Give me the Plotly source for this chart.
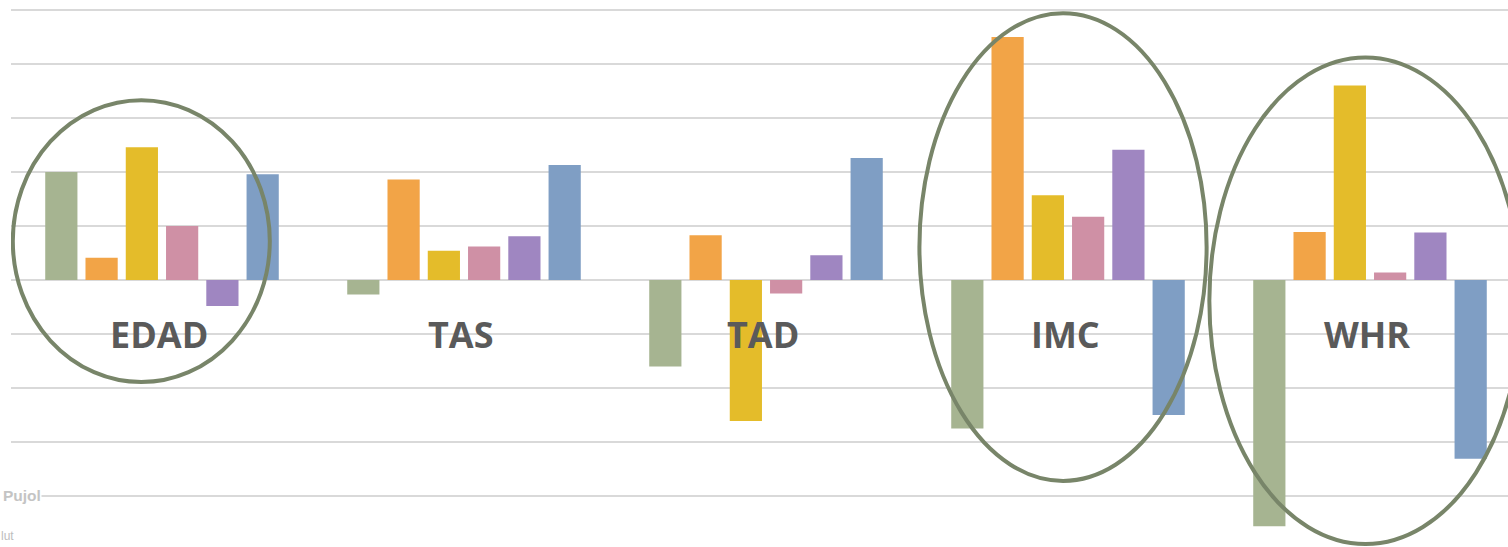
import plotly.graph_objects as go

categories = ["EDAD", "TAS", "TAD", "IMC", "WHR"]

serie_1 = [0.200, -0.027, -0.160, -0.275, -0.456]
serie_2 = [0.041, 0.186, 0.083, 0.450, 0.089]
serie_3 = [0.246, 0.054, -0.261, 0.157, 0.360]
serie_4 = [0.100, 0.062, -0.025, 0.117, 0.014]
serie_5 = [-0.048, 0.081, 0.046, 0.241, 0.088]
serie_6 = [0.196, 0.213, 0.226, -0.250, -0.331]

series = [serie_1, serie_2, serie_3, serie_4, serie_5, serie_6]
colors = ["#a6b491", "#f2a447", "#e4bc2a", "#cf90a5", "#9f86c1", "#7f9ec4"]

# highlighted groups (ellipses) in axis units
highlight = [
    {"x0": -0.494, "x1": 0.357, "y0": -0.189, "y1": 0.333},
    {"x0": 2.508, "x1": 3.459, "y0": -0.372, "y1": 0.494},
    {"x0": 3.468, "x1": 4.502, "y0": -0.489, "y1": 0.412},
]

W, H = 1508, 547
ML, MT = 11, 5
PW, PH = W - ML, H - MT
ZERO_PX = 280   # pixel row of y=0
PX_PER_UNIT = 540

fig = go.Figure()
for vals, col in zip(series, colors):
    fig.add_trace(go.Bar(
        x=list(range(len(categories))),
        y=vals,
        marker=dict(color=col, line=dict(width=0)),
        showlegend=False,
    ))

for h in highlight:
    fig.add_shape(type="circle", xref="x", yref="y",
                  x0=h["x0"], x1=h["x1"], y0=h["y0"], y1=h["y1"],
                  line=dict(color="#788569", width=4), layer="above")

for i, c in enumerate(categories):
    fig.add_annotation(x=i, y=-0.1, xref="x", yref="y", text="<b>%s</b>" % c,
                       showarrow=False, xshift=-3,
                       font=dict(family="Open Sans", size=36, color="#5a5a5a"))

def px_x(px):
    return (px - ML) / PW

def px_y(py):
    return 1 - (py - MT) / PH

fig.add_annotation(x=px_x(2), y=px_y(495), xref="paper", yref="paper", text="<b>Pujol</b>",
                   showarrow=False, xanchor="left", yanchor="middle",
                   font=dict(family="Liberation Sans", size=15.5, color="#c4c4c4"),
                   bgcolor="white", borderpad=0)
fig.add_annotation(x=px_x(-1), y=px_y(536), xref="paper", yref="paper", text="lut",
                   showarrow=False, xanchor="left", yanchor="middle",
                   font=dict(family="Liberation Sans", size=12, color="#bdbdbd"))

y_top = (ZERO_PX - MT) / PX_PER_UNIT
y_bot = (ZERO_PX - H) / PX_PER_UNIT

fig.update_layout(
    width=W, height=H,
    margin=dict(l=ML, r=0, t=MT, b=0),
    paper_bgcolor="white", plot_bgcolor="white",
    barmode="group", bargap=0.2, bargroupgap=0.2,
    xaxis=dict(range=[-0.5, -0.5 + PW / 302], showgrid=False, showticklabels=False,
               zeroline=False, ticks="", showline=False),
    yaxis=dict(range=[y_bot, y_top], dtick=0.1, tick0=0, showgrid=True,
               gridcolor="#d9d9d9", gridwidth=1.8, zeroline=True,
               zerolinecolor="#d9d9d9", zerolinewidth=1.8,
               showticklabels=False, ticks="", showline=False),
)

fig.write_html("out.html", config={"displayModeBar": False},
               post_script="document.body.style.margin='0';document.body.style.overflow='hidden';")
